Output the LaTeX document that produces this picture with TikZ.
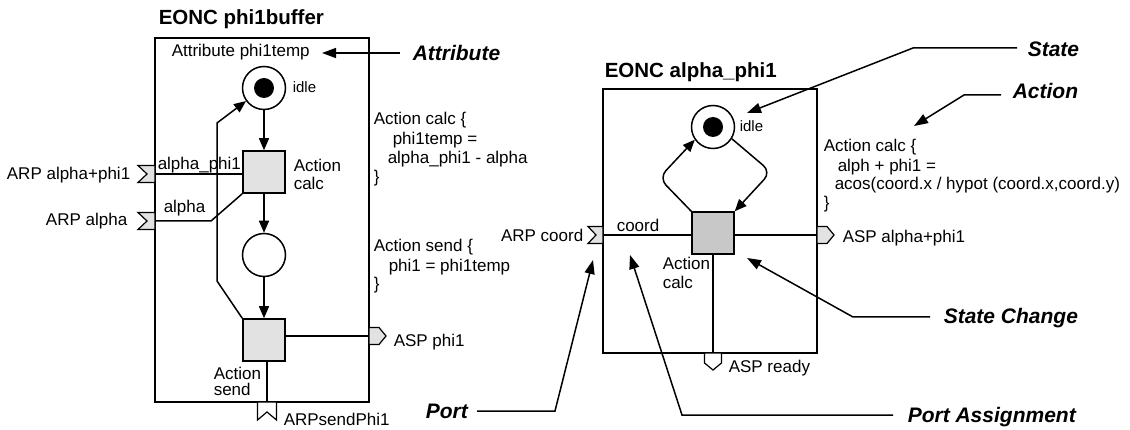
\documentclass[tikz,border=0pt]{standalone}
\usepackage{fontspec}
\setmainfont{Liberation Sans}
\usetikzlibrary{arrows.meta,calc}
\definecolor{lgray}{HTML}{E2E2E2}
\definecolor{dgray}{HTML}{C8C8C8}
\begin{document}
\begin{tikzpicture}[x=1pt,y=-1pt,
  line width=1.5pt,
  txt/.style={inner sep=0pt,font=\fontsize{17}{19.5}\selectfont},
  ttl/.style={inner sep=0pt,font=\fontsize{20.5}{24}\selectfont\bfseries},
  lbl/.style={inner sep=0pt,font=\fontsize{21}{24}\selectfont\bfseries\itshape},
  small/.style={inner sep=0pt,font=\fontsize{15}{17}\selectfont},
  box/.style={draw,fill=white,inner sep=0pt},
  place/.style={draw,circle,minimum size=43pt,inner sep=0pt,fill=white},
  token/.style={circle,fill=black,minimum size=20pt,inner sep=0pt},
  trans/.style={draw,minimum size=42pt,inner sep=0pt,fill=lgray},
  transd/.style={trans,fill=dgray},
  port/.style={draw,fill=lgray,line width=1.2pt},
  wport/.style={draw,fill=white,line width=1.2pt},
  arc/.style={-{Triangle[length=12pt,width=10pt]}},
  lead/.style={-{Triangle[length=14pt,width=10pt]}},
]
\useasboundingbox (0,0) rectangle (1130,430);

% ---------------- left component ----------------
\node[box,minimum width=214pt,minimum height=364pt] (B1) at (262,220) {};
\node[ttl,anchor=base west] (t1) at (158,25) {EONC phi1buffer};
\node[txt,anchor=base west] (attr) at (171,57) {Attribute phi1temp};

\coordinate (inAP) at (155,174);
\coordinate (inA) at (155,221);
\coordinate (outP) at (369,336);
\coordinate (inS) at (267,402);

\node[place] (idle1) at (264,88) {};
\node[token] (tok1) at (idle1) {};
\node[trans] (calc1) at (264,172) {};
\node[place] (p2) at (264,255) {};
\node[trans] (send1) at (264,340) {};

\draw[arc] (idle1) -- (calc1);
\draw[arc] (calc1) -- (p2);
\draw[arc] (p2) -- (send1);
\draw[arc] (send1.north west) -- (217,281) -- (217,123) -- (idle1.216);
\draw (inAP) -- (calc1.west |- inAP);
\draw (inA) -- (211,221) -- (calc1.south west);
\draw (send1.east |- outP) -- (outP);
\draw (send1.south -| inS) -- (inS);

\draw[port] (inAP) ++(0,-8.5) -- ++(-17,0) -- ++(9,8.5) -- ++(-9,8.5) -- ++(17,0) -- cycle;
\draw[port] (inA) ++(0,-8.5) -- ++(-17,0) -- ++(9,8.5) -- ++(-9,8.5) -- ++(17,0) -- cycle;
\draw[port] (outP) ++(0,-8.5) -- ++(10,0) -- ++(7,8.5) -- ++(-7,8.5) -- ++(-10,0) -- cycle;
\draw[wport] (inS) ++(-9.5,0) -- ++(19,0) -- ++(0,18) -- ++(-9.5,-8) -- ++(-9.5,8) -- cycle;

\node[small,anchor=base west] (idl1) at (292,93) {idle};
\node[txt,anchor=base east] (arpap) at (131,180) {ARP alpha+phi1};
\node[txt,anchor=base west] (nap) at (157,170) {alpha\_phi1};
\node[txt,anchor=base west] (ac1a) at (293,172) {Action};
\node[txt,anchor=base west] (ac1b) at (293,190) {calc};
\node[txt,anchor=base east] (arpa) at (128,226) {ARP alpha};
\node[txt,anchor=base west] (na) at (163,213) {alpha};
\node[txt,anchor=base west] (as1a) at (213,379) {Action};
\node[txt,anchor=base west] (as1b) at (213,395) {send};
\node[txt,anchor=base west] (arps) at (283,425) {ARPsendPhi1};
\node[txt,anchor=base west] (asp1) at (393,347) {ASP phi1};

\node[txt,anchor=base west] (c1) at (373,125) {Action calc \{};
\node[txt,anchor=base west] (c2) at (392,145) {phi1temp =};
\node[txt,anchor=base west] (c3) at (387,164) {alpha\_phi1 - alpha};
\node[txt,anchor=base west] (c4) at (373,183) {\}};
\node[txt,anchor=base west] (s1) at (373,252) {Action send \{};
\node[txt,anchor=base west] (s2) at (388,272) {phi1 = phi1temp};
\node[txt,anchor=base west] (s3) at (373,290) {\}};

% ---------------- right component ----------------
\node[box,minimum width=214pt,minimum height=264pt] (B2) at (710,221) {};
\node[ttl,anchor=base west] (t2) at (604,78) {EONC alpha\_phi1};

\coordinate (inC) at (603,235);
\coordinate (outAP) at (817,235);
\coordinate (outR) at (713,353);

\node[place] (idle2) at (713,127) {};
\node[token] (tok2) at (idle2) {};
\node[transd] (calc2) at (713,233) {};

\draw (inC) -- (calc2.west |- inC);
\draw (calc2.east |- outAP) -- (outAP);
\draw (calc2.south) -- (outR);
\draw[arc,rounded corners=10pt] (calc2.north west) -- (659,178) -- (idle2.215);
\draw[arc,rounded corners=10pt] (idle2.-32) -- (771,172) -- (calc2.north east);

\draw[port] (inC) ++(0,-8.5) -- ++(-15,0) -- ++(8,8.5) -- ++(-8,8.5) -- ++(15,0) -- cycle;
\draw[port] (outAP) ++(0,-8.5) -- ++(10,0) -- ++(7,8.5) -- ++(-7,8.5) -- ++(-10,0) -- cycle;
\draw[wport] (outR) ++(-8.5,0) -- ++(17,0) -- ++(0,10) -- ++(-8.5,7) -- ++(-8.5,-7) -- cycle;

\node[small,anchor=base west] (idl2) at (739,132) {idle};
\node[txt,anchor=base west] (nc) at (616,232) {coord};
\node[txt,anchor=base east] (arpc) at (584,242) {ARP coord};
\node[txt,anchor=base west] (ac2a) at (662,270) {Action};
\node[txt,anchor=base west] (ac2b) at (662,289) {calc};
\node[txt,anchor=base west] (aspr) at (728,372) {ASP ready};
\node[txt,anchor=base west] (aspap) at (842,243) {ASP alpha+phi1};

\node[txt,anchor=base west] (d1) at (823,152) {Action calc \{};
\node[txt,anchor=base west] (d2) at (837,172) {alph + phi1 =};
\node[txt,anchor=base west] (d3) at (834,190) {acos(coord.x / hypot (coord.x,coord.y)};
\node[txt,anchor=base west] (d4) at (823,209) {\}};

% ---------------- annotation labels ----------------
\node[lbl,anchor=base west] (LAttr) at (412,61) {Attribute};
\node[lbl,anchor=base west] (LState) at (1027,57) {State};
\node[lbl,anchor=base west] (LAction) at (1012,99) {Action};
\node[lbl,anchor=base west] (LSC) at (943,324) {State Change};
\node[lbl,anchor=base west] (LPA) at (907,422) {Port Assignment};
\node[lbl,anchor=base west] (LPort) at (425,418) {Port};

\coordinate (sAttr) at (400,53);
\coordinate (eAttr) at (322,53);
\coordinate (sState) at (1017,48);
\coordinate (eState) at (747,113);
\coordinate (sAction) at (1001,95);
\coordinate (eAction) at (914,126);
\coordinate (sSC) at (930,317);
\coordinate (eSC) at (747,258);
\coordinate (sPA) at (893,415);
\coordinate (ePA) at (630,255);
\coordinate (sPort) at (477,411);
\coordinate (ePort) at (593,260);

\draw[lead] (sAttr) -- (eAttr);
\draw[lead] (sState) -- (913,48) -- (eState);
\draw[lead] (sAction) -- (964,95) -- (eAction);
\draw[lead] (sSC) -- (853,317) -- (eSC);
\draw[lead] (sPA) -- (682,415) -- (ePA);
\draw[lead] (sPort) -- (555,411) -- (ePort);
\end{tikzpicture}
\end{document}
